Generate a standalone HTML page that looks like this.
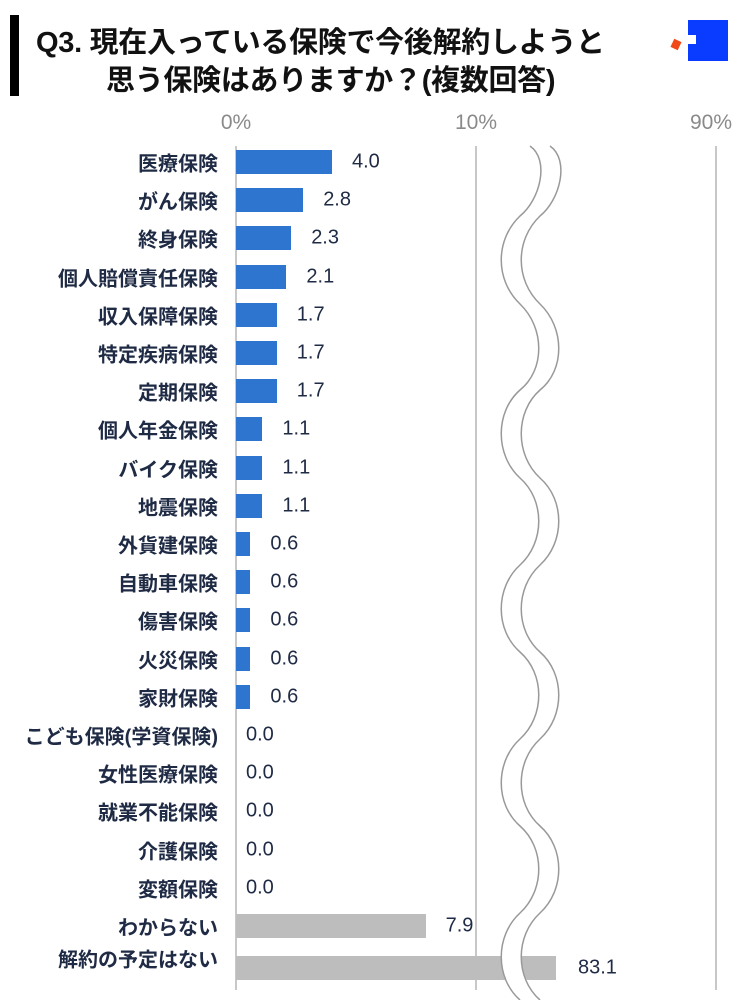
<!DOCTYPE html>
<html><head><meta charset="utf-8"><style>
body{margin:0;width:750px;height:1000px;background:#fff;font-family:"Liberation Sans","Noto Sans CJK JP",sans-serif;position:relative;overflow:hidden}
.t{position:absolute;left:36px;font-size:29px;font-weight:bold;color:#111;white-space:nowrap;letter-spacing:-0.3px}
.lab{position:absolute;right:532px;font-size:20px;font-weight:bold;color:#1f2a44;white-space:nowrap;transform:translateY(-50%)}
.val{position:absolute;font-size:20px;color:#1f2a44;transform:translateY(-50%)}
.bar{position:absolute;left:236px;height:24px;transform:translateY(-50%)}
.ax{position:absolute;top:111px;font-size:21px;color:#8a8a8a;transform:translateX(-50%)}
</style></head><body>
<div style="position:absolute;left:10px;top:15px;width:9px;height:81px;background:#000"></div>
<div class="t" style="top:19px">Q3. 現在入っている保険で今後解約しようと</div>
<div class="t" style="top:57px;left:106px">思う保険はありますか？(複数回答)</div>
<div style="position:absolute;left:688px;top:20px;width:40px;height:41px;background:#0a3cff"></div>
<div style="position:absolute;left:688px;top:35px;width:8px;height:9px;background:#fff"></div>
<div style="position:absolute;left:672px;top:40px;width:8px;height:9px;background:#f04a1a;transform:rotate(25deg)"></div>
<div class="ax" style="left:236px">0%</div>
<div class="ax" style="left:476px">10%</div>
<div class="ax" style="left:711px">90%</div>
<svg style="position:absolute;left:0;top:0" width="750" height="1000">
<line x1="236" y1="146" x2="236" y2="990" stroke="#c8c8c8" stroke-width="2"/>
<line x1="476" y1="146" x2="476" y2="990" stroke="#c8c8c8" stroke-width="2"/>
<line x1="716" y1="146" x2="716" y2="990" stroke="#c8c8c8" stroke-width="2"/>
<path id="w" d="M540 146 C560 160 550 200 530 216 C505 240 505 280 530 304 C555 328 555 370 530 390 C505 412 505 455 530 478 C555 500 555 542 530 565 C505 588 505 630 530 652 C555 674 555 716 530 739 C505 762 505 804 530 826 C555 848 555 890 530 913 C505 936 505 978 530 1000" fill="none"/>
<rect x="236" y="956" width="320" height="24" fill="#bdbdbd"/>
<use href="#w" stroke="#fff" stroke-width="20"/>
<use href="#w" transform="translate(-10,0)" stroke="#999" stroke-width="1.5"/>
<use href="#w" transform="translate(10,0)" stroke="#999" stroke-width="1.5"/>
</svg>
<div id="rows"></div>
<script>
var d=[["医療保険",4.0],["がん保険",2.8],["終身保険",2.3],["個人賠償責任保険",2.1],["収入保障保険",1.7],["特定疾病保険",1.7],["定期保険",1.7],["個人年金保険",1.1],["バイク保険",1.1],["地震保険",1.1],["外貨建保険",0.6],["自動車保険",0.6],["傷害保険",0.6],["火災保険",0.6],["家財保険",0.6],["こども保険(学資保険)",0],["女性医療保険",0],["就業不能保険",0],["介護保険",0],["変額保険",0],["わからない",7.9],["解約の予定はない",83.1]];
var h="";
d.forEach(function(r,i){var y=162+i*38.2;if(i==21)y=968;
h+='<div class="lab" style="top:'+(i==21?958:y)+'px">'+r[0]+'</div>';
var w=r[1]*24,g=i>=20;
if(i==21){h+='<div class="val" style="left:578px;top:'+y+'px">83.1</div>';return;}
if(w>0)h+='<div class="bar" style="top:'+y+'px;width:'+w+'px;background:'+(g?'#bdbdbd':'#2e75cf')+'"></div>';
h+='<div class="val" style="left:'+(236+w+(w>0?20:10))+'px;top:'+y+'px">'+r[1].toFixed(1)+'</div>';});
document.getElementById("rows").innerHTML=h;
</script>
</body></html>
